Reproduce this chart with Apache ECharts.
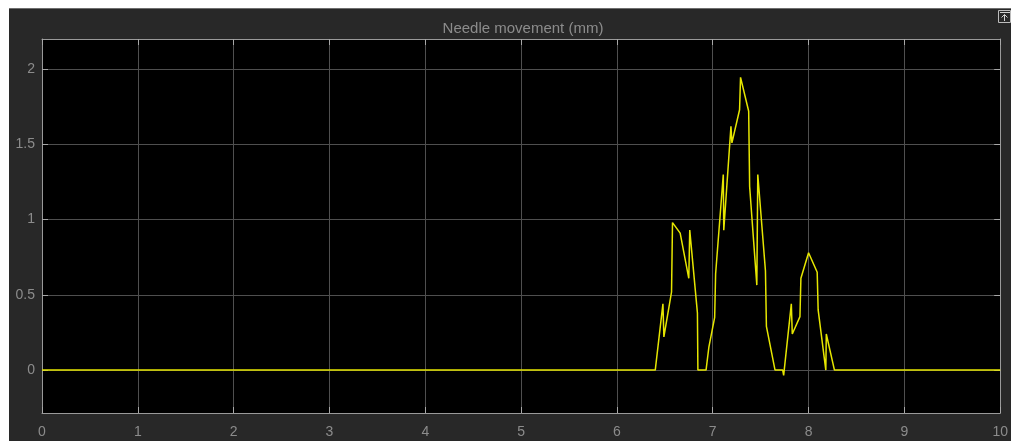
<!DOCTYPE html>
<html>
<head>
<meta charset="utf-8">
<script src="https://cdn.jsdelivr.net/npm/echarts@6/dist/echarts.min.js"></script>
<style>
html,body{margin:0;padding:0;background:#ffffff;}
#chart{position:absolute;left:0;top:0;width:1011px;height:441px;}
</style>
</head>
<body>
<div id="chart"></div>
<script>
// ---- data ----
const chartTitle = 'Needle movement (mm)';
const times = [0, 6.40, 6.48, 6.49, 6.57, 6.58, 6.66, 6.75, 6.76, 6.84, 6.845, 6.93, 6.96, 7.02, 7.03, 7.11, 7.115, 7.19, 7.20, 7.28, 7.29, 7.375, 7.385, 7.46, 7.47, 7.55, 7.56, 7.65, 7.73, 7.74, 7.82, 7.83, 7.91, 7.92, 8.00, 8.09, 8.10, 8.18, 8.185, 8.27, 10];
const values = [0, 0, 0.44, 0.22, 0.52, 0.98, 0.91, 0.61, 0.93, 0.38, 0, 0, 0.155, 0.35, 0.64, 1.30, 0.93, 1.62, 1.51, 1.73, 1.945, 1.72, 1.22, 0.565, 1.30, 0.66, 0.29, 0, 0, -0.035, 0.44, 0.24, 0.355, 0.61, 0.78, 0.65, 0.40, 0, 0.24, 0, 0];
const xTicks = [0, 1, 2, 3, 4, 5, 6, 7, 8, 9, 10];
const yTicks = [0, 0.5, 1, 1.5, 2];
const xRange = [0, 10];
const yRange = [-0.285, 2.2];

const seriesData = times.map((t, i) => [t, values[i]]);

const chart = echarts.init(document.getElementById('chart'), null, {renderer: 'canvas'});
const font = '"Liberation Sans", Arial, sans-serif';
const labelColor = '#8c8c8c';
const gridColor = '#4f4f4f';
const tickColor = '#a8a8a8';
const borderColor = '#9a9a9a';

function xAxisCfg(pos, showLabel) {
  return {
    type: 'value', position: pos, min: xRange[0], max: xRange[1], interval: 1,
    axisLine: {show: true, onZero: false, lineStyle: {color: borderColor, width: 1}},
    axisTick: {show: true, inside: true, length: 6, lineStyle: {color: tickColor, width: 1}},
    axisLabel: {show: showLabel, color: labelColor, fontSize: 14, fontFamily: font, margin: 12},
    splitLine: {show: showLabel, lineStyle: {color: gridColor, width: 1}}
  };
}
function yAxisCfg(pos, showLabel) {
  return {
    type: 'value', position: pos, min: yRange[0], max: yRange[1],
    axisLine: {show: true, onZero: false, lineStyle: {color: borderColor, width: 1}},
    axisTick: {show: true, inside: true, length: 6, customValues: yTicks, lineStyle: {color: tickColor, width: 1}},
    axisLabel: {show: showLabel, customValues: yTicks, color: labelColor, fontSize: 14, fontFamily: font, margin: 7},
    splitLine: {show: showLabel, lineStyle: {color: gridColor, width: 1}}
  };
}

chart.setOption({
  backgroundColor: '#282828',
  animation: false,
  title: {
    text: chartTitle, left: 518, top: 16, textAlign: 'center',
    textStyle: {color: labelColor, fontSize: 15, fontWeight: 'normal', fontFamily: font}
  },
  grid: {left: 42, top: 39, width: 960, height: 374, backgroundColor: '#000000', show: true, borderWidth: 0},
  xAxis: [xAxisCfg('bottom', true), xAxisCfg('top', false)],
  yAxis: [yAxisCfg('left', true), yAxisCfg('right', false)],
  series: [{
    type: 'line', data: seriesData, xAxisIndex: 0, yAxisIndex: 0,
    showSymbol: false, symbol: 'none',
    lineStyle: {color: '#e6e600', width: 1.5},
    z: 5
  }],
  graphic: [
    {type: 'rect', shape: {x: 0, y: 0, width: 1011, height: 8}, style: {fill: '#ffffff'}, z: 100},
    {type: 'rect', shape: {x: 0, y: 0, width: 9, height: 441}, style: {fill: '#ffffff'}, z: 100},
    {type: 'line', shape: {x1: 9, y1: 8.5, x2: 1011, y2: 8.5}, style: {stroke: '#6e6e6e', lineWidth: 1}, z: 100},
    {type: 'rect', shape: {x: 998.5, y: 10.5, width: 12, height: 12}, style: {fill: 'none', stroke: '#bdbdbd', lineWidth: 1}, z: 100},
    {type: 'line', shape: {x1: 1000, y1: 12.5, x2: 1010, y2: 12.5}, style: {stroke: '#d0d0d0', lineWidth: 1}, z: 100},
    {type: 'polyline', shape: {points: [[1001.5, 17.5], [1004.5, 14.5], [1007.5, 17.5]]}, style: {fill: 'none', stroke: '#d0d0d0', lineWidth: 1}, z: 100},
    {type: 'line', shape: {x1: 1004.5, y1: 14.5, x2: 1004.5, y2: 21}, style: {stroke: '#d0d0d0', lineWidth: 1}, z: 100}
  ]
});
</script>
</body>
</html>
